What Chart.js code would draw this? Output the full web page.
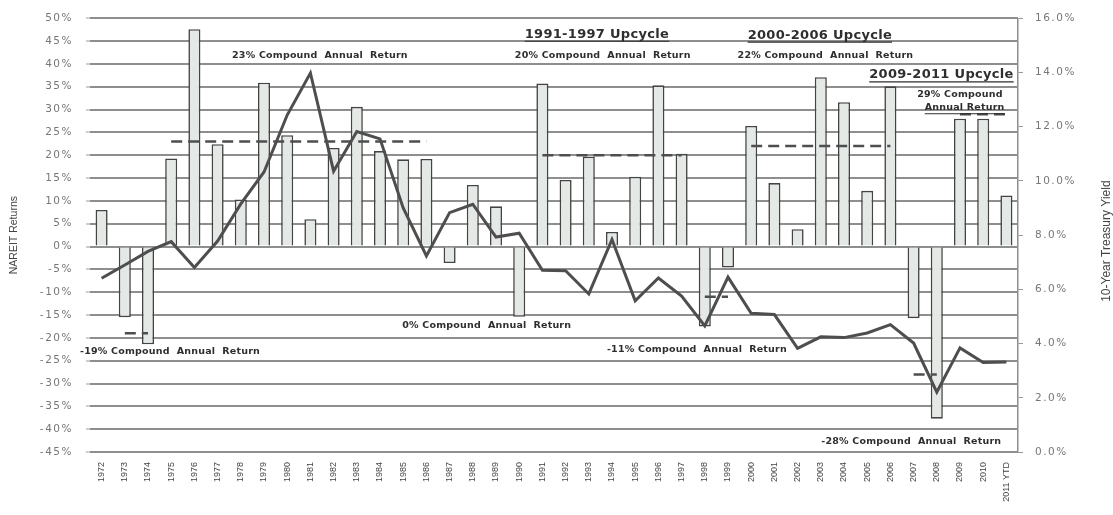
<!DOCTYPE html>
<html>
<head>
<meta charset="utf-8">
<script src="https://cdn.jsdelivr.net/npm/chart.js@4"></script>
<style>
html,body{margin:0;padding:0;background:#fff;}
#wrap{width:1113px;height:515px;position:relative;}
</style>
</head>
<body>
<div id="wrap"><canvas id="c" width="1113" height="515"></canvas></div>
<script>
// ---- data ----
const years = ['1972','1973','1974','1975','1976','1977','1978','1979','1980','1981',
  '1982','1983','1984','1985','1986','1987','1988','1989','1990','1991',
  '1992','1993','1994','1995','1996','1997','1998','1999','2000','2001',
  '2002','2003','2004','2005','2006','2007','2008','2009','2010','2011 YTD'];

const nareitReturns = [8.0,-15.5,-21.4,19.3,47.6,22.4,10.3,35.9,24.4,6.0,
  21.6,30.6,20.9,19.1,19.2,-3.6,13.5,8.8,-15.4,35.7,
  14.6,19.7,3.2,15.3,35.3,20.3,-17.5,-4.6,26.4,13.9,
  3.8,37.1,31.6,12.2,35.1,-15.7,-37.7,28.0,28.0,11.2];

const treasuryYield = [6.41,6.90,7.40,7.76,6.81,7.78,9.15,10.33,12.43,13.98,
  10.36,11.82,11.55,9.00,7.23,8.83,9.14,7.93,8.07,6.70,
  6.69,5.83,7.84,5.58,6.42,5.75,4.65,6.45,5.12,5.07,
  3.82,4.25,4.22,4.39,4.70,4.02,2.21,3.84,3.30,3.32];

// compound annual return per cycle: [first year, last year, value]
const cycleReturns = [
  ['1973','1974',-19],
  ['1975','1986',23],
  ['1991','1997',20],
  ['1998','1999',-11],
  ['2000','2006',22],
  ['2007','2008',-28],
  ['2009','2011 YTD',29]
];

const leftTicks = {min:-45, max:50, step:5};
const rightTicks = {min:0, max:16, step:2};
const rightTitle = '10-Year Treasury Yield';

// ---- build ----
function cycleSeries(c){
  const a = years.indexOf(c[0]), b = years.indexOf(c[1]);
  return years.map((y,i)=> (i>=a && i<=b) ? c[2] : null);
}

const datasets = [
  {type:'line', label:'10-Year Treasury Yield', data:treasuryYield, yAxisID:'y2',
   borderColor:'#4e4e4e', borderWidth:3, pointRadius:0, tension:0, order:1},
  ...cycleReturns.map(c=>({type:'line', data:cycleSeries(c), yAxisID:'y',
   borderColor:'#4e4e4e', borderWidth:2.5, borderDash:[11,6], pointRadius:0, order:2, spanGaps:false})),
  {type:'bar', label:'NAREIT Returns', data:nareitReturns, yAxisID:'y',
   backgroundColor:'#e4e9e6', borderColor:'#444', borderWidth:1.6,
   barPercentage:0.52, categoryPercentage:1.0, order:3}
];

// annotation texts (index on x axis, value on left axis)
const notes = [
  {t:'23% Compound  Annual  Return', x:9.41, y:41.9},
  {t:'1991-1997 Upcycle', x:21.35, y:46.5, big:true},
  {t:'20% Compound  Annual  Return', x:21.6, y:41.9},
  {t:'2000-2006 Upcycle', x:30.96, y:46.3, big:true},
  {t:'22% Compound  Annual  Return', x:31.2, y:41.9},
  {t:'2009-2011 Upcycle', x:36.2, y:37.6, big:true},
  {t:'29% Compound', x:37.0, y:33.4},
  {t:'Annual Return', x:37.2, y:30.4, ul:true},
  {t:'-19% Compound  Annual  Return', x:2.95, y:-23.0},
  {t:'0% Compound  Annual  Return', x:16.6, y:-17.4},
  {t:'-11% Compound  Annual  Return', x:25.66, y:-22.6},
  {t:'-28% Compound  Annual  Return', x:34.9, y:-42.6}
];

const notePlugin = {
  id:'notes',
  afterLayout(chart){
    ['y','y2'].forEach(id=>{
      const s = chart.scales[id];
      if (s && !s._ls){
        const orig = s.drawLabels.bind(s);
        s.drawLabels = function(a){ const c=this.ctx; c.save(); c.letterSpacing='1.5px'; orig(a); c.restore(); };
        s._ls = true;
      }
    });
  },
  afterDatasetsDraw(chart){
    const ctx = chart.ctx, xs = chart.scales.x, ys = chart.scales.y, y2 = chart.scales.y2;
    ctx.save();
    ctx.textAlign='center'; ctx.textBaseline='middle';
    ctx.fillStyle='#2e2e2e'; ctx.strokeStyle='#2e2e2e';
    notes.forEach(n=>{
      const px = xs.getPixelForValue(n.x), py = ys.getPixelForValue(n.y);
      if (n.big){ ctx.font='bold 13px "DejaVu Sans"'; ctx.letterSpacing='0.3px'; }
      else { ctx.font='bold 9.5px "DejaVu Sans"'; ctx.letterSpacing='0.2px'; }
      ctx.fillText(n.t, px, py);
      if (n.big || n.ul){
        const w = ctx.measureText(n.t).width;
        ctx.lineWidth = n.big ? 1.2 : 1;
        ctx.beginPath();
        const uy = py + (n.big ? 7 : 6);
        ctx.moveTo(px - w/2, uy); ctx.lineTo(px + w/2, uy); ctx.stroke();
      }
    });
    // right axis title, reading bottom-to-top
    ctx.letterSpacing='0px';
    ctx.font='12px "Liberation Sans"';
    ctx.fillStyle='#444';
    ctx.translate(y2.right - 6, (y2.top + y2.bottom)/2 + 6);
    ctx.rotate(-Math.PI/2);
    ctx.fillText(rightTitle, 0, 0);
    ctx.restore();
  }
};

new Chart(document.getElementById('c'), {
  data:{labels:years, datasets},
  plugins:[notePlugin],
  options:{
    responsive:false, animation:false,
    layout:{padding:{top:0, left:0, right:0, bottom:0}},
    plugins:{legend:{display:false}, tooltip:{enabled:false}},
    scales:{
      x:{
        type:'category', offset:true,
        grid:{display:false, drawTicks:false},
        border:{display:false},
        ticks:{maxRotation:90, minRotation:90, autoSkip:false, padding:10,
          color:'#444', font:{family:'"Liberation Sans"', size:9}},
        afterFit(s){ s.height = 63; }
      },
      y:{
        position:'left', min:leftTicks.min, max:leftTicks.max,
        ticks:{stepSize:leftTicks.step, padding:13, color:'#777',
          font:{family:'"DejaVu Sans"', size:10.5, lineHeight:1},
          callback:v=>v+'%'},
        grid:{color:'#8e8e8e', lineWidth:2, tickLength:4, tickColor:'#999', tickWidth:1},
        border:{display:false},
        title:{display:true, text:'NAREIT Returns', color:'#444',
          font:{family:'"Liberation Sans"', size:10.5}, padding:{top:8,bottom:0}},
        afterFit(s){ s.width = 90; }
      },
      y2:{
        position:'right', min:rightTicks.min, max:rightTicks.max,
        ticks:{stepSize:rightTicks.step, padding:12, color:'#777',
          font:{family:'"DejaVu Sans"', size:10.5, lineHeight:1},
          callback:v=>v.toFixed(1)+'%'},
        grid:{drawOnChartArea:false, color:'#999', tickLength:5, lineWidth:1},
        border:{display:true, color:'#8e8e8e', width:1.5},
        title:{display:false},
        afterFit(s){ s.width = 95; }
      }
    }
  }
});
</script>
</body>
</html>
